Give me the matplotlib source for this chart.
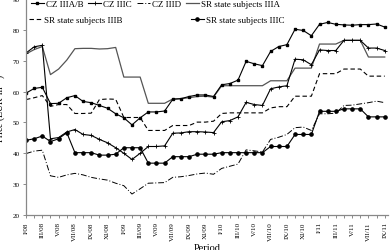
import matplotlib
matplotlib.use("Agg")
import matplotlib.pyplot as plt

plt.rcParams['font.family'] = ['Liberation Serif', 'DejaVu Serif']
plt.rcParams['mathtext.fontset'] = 'stix'

# monthly prices, I/08 .. IX/11 (EUR per m3)
tick_labels = ["I/08", "III/08", "V/08", "VII/08", "IX/08", "XI/08",
               "I/09", "III/09", "V/09", "VII/09", "IX/09", "XI/09",
               "I/10", "III/10", "V/10", "VII/10", "IX/10", "XI/10",
               "I/11", "III/11", "V/11", "VII/11", "IX/11"]

cz_iiiab = [59.5, 61.0, 61.4, 56.1, 56.2, 58.0, 58.7, 56.8, 56.4, 55.5,
            54.6, 52.8, 51.5, 49.2, 51.5, 53.4, 53.4, 53.7, 57.5, 57.7,
            58.4, 58.9, 58.9, 58.4, 62.2, 62.6, 63.7, 69.8, 69.0, 68.4,
            73.0, 74.6, 75.2, 80.2, 79.8, 78.1, 81.8, 82.4, 81.8, 81.6,
            81.5, 81.7, 81.7, 81.9, 80.9]
cz_iiic = [72.5, 74.5, 75.0, 44.7, 45.1, 46.9, 47.7, 46.1, 45.8, 44.5,
           43.4, 41.8, 40.0, 38.0, 40.0, 42.2, 42.2, 42.4, 46.5, 46.6,
           47.0, 47.0, 46.9, 46.7, 50.2, 50.6, 51.8, 56.5, 55.8, 55.5,
           60.9, 61.5, 61.9, 70.5, 70.3, 68.7, 73.5, 73.3, 73.3, 76.6,
           76.6, 76.6, 74.1, 74.1, 73.3]
cz_iiid = [39.9, 40.7, 41.0, 32.7, 32.2, 33.0, 33.5, 33.0, 32.2, 31.7,
           31.3, 30.3, 29.5, 26.8, 28.5, 30.3, 30.4, 30.5, 32.2, 32.4,
           32.8, 33.3, 33.6, 33.2, 35.1, 35.8, 36.5, 41.1, 40.8, 40.4,
           44.5, 45.2, 46.1, 48.3, 48.5, 47.4, 52.8, 52.8, 53.0, 55.5,
           55.6, 56.0, 56.4, 56.9, 56.4]
sr_iiia = [72.2, 73.6, 74.6, 65.5, 67.3, 70.2, 73.9, 74.0, 74.0, 73.8,
           73.9, 74.3, 64.7, 64.7, 64.7, 56.2, 56.2, 56.2, 57.6, 57.7,
           58.0, 58.4, 58.5, 58.2, 61.9, 61.9, 61.9, 61.9, 61.9, 61.9,
           63.5, 63.5, 63.5, 67.6, 67.6, 67.6, 75.4, 75.4, 75.4, 76.6,
           76.6, 76.6, 71.2, 71.2, 71.2]
sr_iiib = [57.4, 58.0, 58.7, 55.2, 55.8, 55.8, 52.9, 52.9, 53.0, 57.4,
           57.6, 57.5, 51.6, 51.6, 51.6, 47.4, 47.4, 47.4, 49.0, 49.0,
           49.0, 50.1, 50.1, 50.4, 52.9, 53.1, 53.1, 53.1, 53.1, 53.1,
           54.7, 55.1, 55.1, 58.5, 58.5, 58.5, 65.8, 65.8, 65.8, 67.3,
           67.3, 67.3, 65.0, 65.0, 65.0]
sr_iiic = [44.2, 44.7, 45.6, 43.8, 44.7, 46.7, 40.2, 40.2, 40.2, 39.4,
           39.4, 39.7, 41.8, 41.8, 41.8, 36.8, 36.8, 36.8, 38.9, 38.9,
           38.9, 39.7, 39.7, 39.7, 40.2, 40.2, 40.2, 40.2, 40.2, 40.2,
           42.2, 42.2, 42.2, 46.1, 46.1, 46.1, 53.6, 53.6, 53.6, 54.4,
           54.4, 54.4, 51.8, 51.8, 51.8]

months = list(range(len(cz_iiiab)))

fig = plt.figure(figsize=(3.92, 2.51), dpi=100)
ax = fig.add_axes([26 / 392, 1 - 216 / 251, 362 / 392, 216 / 251])

l_srA, = ax.plot(months, sr_iiia, color="#555555", lw=0.9,
                 label="SR state subjects IIIA")
l_czAB, = ax.plot(months, cz_iiiab, color="black", lw=0.8, marker="s",
                  ms=1.8, label="CZ IIIA/B")
l_czC, = ax.plot(months, cz_iiic, color="black", lw=0.8, marker="+",
                 ms=2.6, mew=0.6, label="CZ IIIC")
l_czD, = ax.plot(months, cz_iiid, color="black", lw=0.7,
                 dashes=(6, 2, 1, 2), label="CZ IIID")
l_srB, = ax.plot(months, sr_iiib, color="black", lw=0.8, dashes=(4, 2.5),
                 label="SR state subjects IIIB")
l_srC, = ax.plot(months, sr_iiic, color="black", lw=0.8, marker="o",
                 ms=2.3, label="SR state subjects IIIC")

ax.set_xlim(0, 44.4)
ax.set_ylim(20, 90)
ax.set_yticks(range(20, 91, 10))
ax.set_xticks(months[::2])
ax.set_xticklabels(tick_labels, rotation=90)
ax.set_xticks(months, minor=True)
ax.tick_params(labelsize=5, length=2.5, width=0.6, color="#777777", pad=2)
ax.tick_params(which="minor", length=2.5, width=0.6, color="#777777")
for side in ("top", "right"):
    ax.spines[side].set_visible(False)
for side in ("left", "bottom"):
    ax.spines[side].set_color("#888888")
    ax.spines[side].set_linewidth(0.9)

ax.set_ylabel(r"Price (EUR$\cdot$m$^{-3}$)", fontsize=7, labelpad=3)
ax.set_xlabel("Period", fontsize=7.5, labelpad=2)

leg_kw = dict(frameon=False, fontsize=6.5, handlelength=1.4,
              handletextpad=0.25, borderpad=0, borderaxespad=0,
              loc="upper left", bbox_transform=fig.transFigure)
row1 = fig.legend(handles=[l_czAB, l_czC, l_czD, l_srA], ncol=4,
                  columnspacing=0.55, bbox_to_anchor=(31 / 392, 1 - 1 / 251),
                  **leg_kw)
row2 = fig.legend(handles=[l_srB, l_srC], ncol=2, columnspacing=7.6,
                  bbox_to_anchor=(29 / 392, 1 - 17 / 251), **leg_kw)

fig.savefig("out.png", dpi=100)
